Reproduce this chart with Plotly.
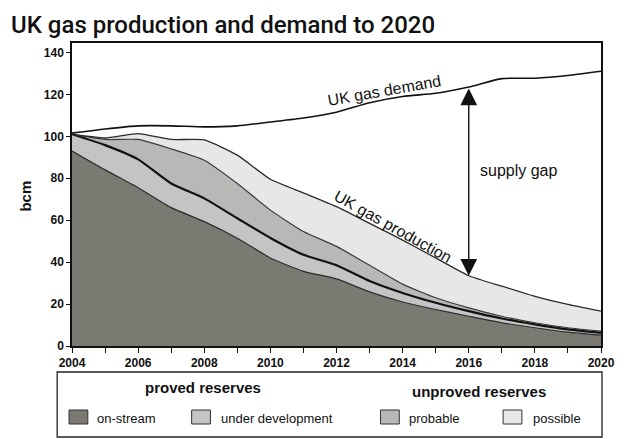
import plotly.graph_objects as go

years = list(range(2004, 2021))
demand = [101.5, 103.5, 105.0, 105.0, 104.5, 105.0, 106.8, 108.7, 111.5, 116.0,
          119.0, 120.5, 123.5, 127.5, 127.7, 129.0, 131.0]
on_stream = [93.0, 84.0, 75.5, 66.0, 59.3, 51.4, 42.0, 35.6, 32.0, 25.8,
             21.0, 17.4, 14.2, 11.1, 8.7, 6.6, 5.2]
under_development = [8.0, 11.8, 13.5, 11.5, 11.1, 9.5, 9.5, 7.9, 6.5, 5.2,
                     4.3, 3.2, 2.4, 2.0, 1.6, 1.3, 1.1]
probable = [0.0, 2.7, 9.5, 16.5, 18.2, 16.6, 13.3, 11.1, 9.0, 7.5,
            4.2, 2.4, 1.6, 1.1, 0.8, 0.8, 0.8]
possible = [0.0, 0.7, 2.8, 4.5, 9.7, 13.5, 14.7, 18.4, 19.0, 20.0,
            21.0, 19.0, 15.3, 14.3, 12.6, 11.1, 9.5]

x_tick_labels = [str(y) if y % 2 == 0 else "" for y in years]
y_ticks = [0, 20, 40, 60, 80, 100, 120, 140]
gap_year = 2016

W, H = 627, 439
ML, MR, MT, MB = 72, 20, 43, 93
PW, PH = W - ML - MR, H - MT - MB


def px(x):
    return (x - ML) / PW


def py(y):
    return (H - MB - y) / PH


FONT = "Liberation Sans, Arial, sans-serif"
colors = {
    "on-stream": "#7a7972",
    "under development": "#c4c4c4",
    "probable": "#b8b8b6",
    "possible": "#e7e7e7",
}

fig = go.Figure()
layers = [
    ("on-stream", on_stream, "#2a2a2a", 1.2),
    ("under development", under_development, "#111111", 2.2),
    ("probable", probable, "#3a3a3a", 1.2),
    ("possible", possible, "#2a2a2a", 1.3),
]
for name, vals, lc, lw in layers:
    fig.add_trace(go.Scatter(
        x=years, y=vals, name=name, stackgroup="one", mode="lines",
        line=dict(color=lc, width=lw, shape="spline", smoothing=0.5),
        fillcolor=colors[name], showlegend=False, hoverinfo="skip"))

fig.add_trace(go.Scatter(
    x=years, y=demand, mode="lines", showlegend=False,
    line=dict(color="#111111", width=1.6, shape="spline", smoothing=0.6)))

gi = years.index(gap_year)
prod_total = on_stream[gi] + under_development[gi] + probable[gi] + possible[gi]

fig.add_annotation(x=gap_year, y=prod_total, ax=gap_year, ay=demand[gi],
                   xref="x", yref="y", axref="x", ayref="y", text="",
                   showarrow=True, arrowhead=2, startarrowhead=2,
                   arrowside="end+start", arrowsize=2.4, startarrowsize=2.4,
                   arrowwidth=1.4, arrowcolor="#111111")

ann_font = dict(family=FONT, size=16, color="#111111")
fig.add_annotation(x=2013.45, y=121.8, text="UK gas demand", showarrow=False,
                   textangle=-10, font=ann_font, xanchor="center", yanchor="middle")
fig.add_annotation(x=2013.7, y=56.8, text="UK gas production", showarrow=False,
                   textangle=29, font=ann_font, xanchor="center", yanchor="middle")
fig.add_annotation(x=2017.5, y=83.8, text="supply gap", showarrow=False,
                   font=ann_font, xanchor="center", yanchor="middle")

# title
fig.add_annotation(xref="paper", yref="paper", x=px(8), y=py(25),
                   xanchor="left", yanchor="middle", showarrow=False,
                   text="UK gas production and demand to 2020",
                   font=dict(family="Roboto, Liberation Sans, sans-serif",
                             size=24, color="#111111", weight=500))
# y-axis title
fig.add_annotation(xref="paper", yref="paper", x=px(24), y=py(196),
                   xanchor="center", yanchor="middle",
                   showarrow=False, text="bcm", textangle=-90,
                   font=dict(family=FONT, size=15, color="#111111", weight="bold"))

# legend box
fig.add_shape(type="rect", xref="paper", yref="paper",
              x0=px(57), x1=px(608), y0=py(437), y1=py(372),
              line=dict(color="#222222", width=1.3), fillcolor="white")
fig.add_annotation(xref="paper", yref="paper", x=px(204), y=py(387),
                   xanchor="center", yanchor="middle",
                   showarrow=False, text="proved reserves",
                   font=dict(family=FONT, size=15, color="#111111", weight="bold"))
fig.add_annotation(xref="paper", yref="paper", x=px(484), y=py(391),
                   xanchor="center", yanchor="middle",
                   showarrow=False, text="unproved reserves",
                   font=dict(family=FONT, size=15, color="#111111", weight="bold"))
legend_items = [("on-stream", 69, 95), ("under development", 193, 221),
                ("probable", 384, 411), ("possible", 508, 536)]
for name, sx, tx in legend_items:
    fig.add_shape(type="rect", xref="paper", yref="paper",
                  x0=px(sx), x1=px(sx + 19), y0=py(424), y1=py(410),
                  line=dict(color="#333333", width=1), fillcolor=colors[name])
    fig.add_annotation(xref="paper", yref="paper", x=px(tx), y=py(418),
                       xanchor="left", yanchor="middle", showarrow=False,
                       text=name, font=dict(family=FONT, size=13, color="#111111"))

fig.update_layout(
    width=W, height=H, margin=dict(l=ML, r=MR, t=MT, b=MB),
    paper_bgcolor="white", plot_bgcolor="white",
    xaxis=dict(range=[2004, 2020], tickvals=years, ticktext=x_tick_labels,
               ticks="outside", ticklen=5, tickwidth=1.2, tickcolor="#111111",
               showline=True, linecolor="#111111", linewidth=1.5, mirror=True,
               showgrid=False, zeroline=False,
               tickfont=dict(family=FONT, size=12, color="#111111", weight="bold")),
    yaxis=dict(range=[0, 144.5], tickvals=y_ticks,
               ticks="outside", ticklen=4, tickwidth=1.2, tickcolor="#111111",
               showline=True, linecolor="#111111", linewidth=1.5, mirror=True,
               showgrid=False, zeroline=False,
               tickfont=dict(family=FONT, size=12, color="#111111", weight="bold")),
)

fig.write_html("out.html")
